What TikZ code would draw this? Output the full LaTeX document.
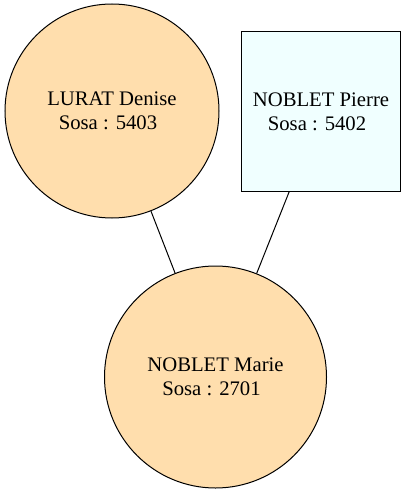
\documentclass[tikz,border=0pt]{standalone}
\usepackage{fontspec}
\setmainfont{Liberation Serif}
\usetikzlibrary{positioning}
\definecolor{navajo}{HTML}{FFDEAD}
\definecolor{azur}{HTML}{F0FFFF}
\tikzset{
  female/.style={circle, draw, fill=navajo, minimum size=#1, inner sep=0pt, align=center},
  male/.style={rectangle, draw, fill=azur, minimum size=159pt, inner sep=0pt, align=center},
}
\begin{document}
\begin{tikzpicture}[x=1pt,y=-1pt,line width=1pt,font=\fontsize{20.7}{24}\selectfont]
    \useasboundingbox (0,0) rectangle (406,494);

    % Parents
    \node[female=214pt] (denise) at (112,111) {LURAT Denise\\Sosa : 5403\hspace*{8pt}};
    \node[male] (pierre) at (321,111.5) {NOBLET Pierre\\Sosa : 5402\hspace*{8pt}};

    % Child
    \node[female=222pt] (marie) at (215.5,377) {NOBLET Marie\\Sosa : 2701\hspace*{8pt}};

    % Links
    \draw (denise) -- (marie);
    \draw (pierre) -- (marie);
\end{tikzpicture}
\end{document}
